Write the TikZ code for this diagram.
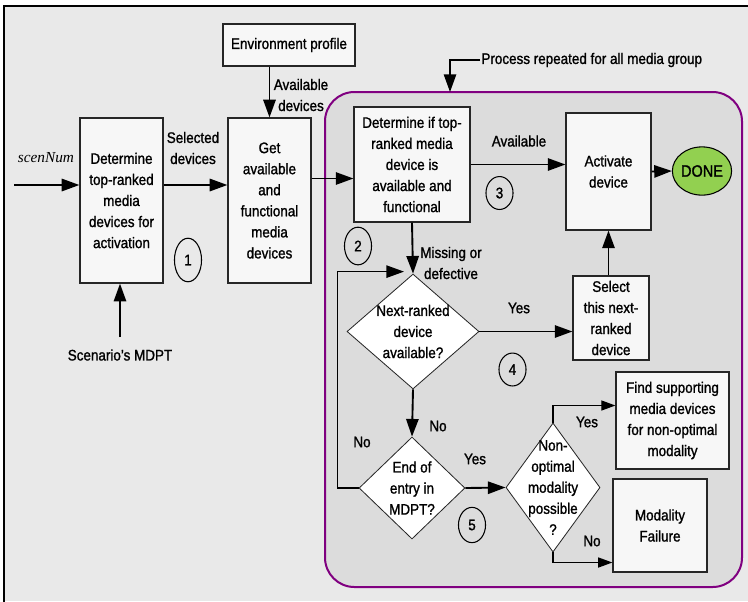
\documentclass[tikz,border=0pt]{standalone}
\usepackage{fontspec}
\setmainfont[FakeStretch=0.88, FakeBold=1.2]{Liberation Sans}
\newfontfamily\scenfont{Liberation Serif}
\usetikzlibrary{arrows.meta,calc,shapes.geometric}

\definecolor{framebg}{RGB}{233,233,233}
\definecolor{groupbg}{RGB}{220,220,220}
\definecolor{boxbg}{RGB}{247,247,247}
\definecolor{groupline}{RGB}{128,0,128}
\definecolor{donegreen}{RGB}{146,208,80}

\tikzset{
  procbox/.style={draw=black!85, line width=1pt, fill=boxbg, align=center, inner sep=1pt},
  decision/.style={diamond, draw=black!85, line width=0.7pt, fill=white, inner sep=0pt},
  stepnum/.style={ellipse, draw=black, line width=0.9pt, inner sep=0pt},
  arr/.style={line width=1.6pt, -{Triangle[length=15pt,width=10.5pt]}},
  thinarr/.style={line width=1.1pt, -{Triangle[length=12pt,width=8.5pt]}},
  lbl/.style={align=center, inner sep=1pt}
}

\begin{document}
\begin{tikzpicture}[x=0.85pt, y=-0.85pt, font=\fontsize{13}{17.9}\selectfont]
  \useasboundingbox (0,0) rectangle (748,601);

  % Frame and the panel of the repeated part
  \fill[white] (0,0) rectangle (748,601);
  \fill[framebg] (4,6) rectangle (748,601);
  \draw[line width=1.8pt] (4,603) -- (4,6) -- (750,6);
  \draw[groupline, fill=groupbg, line width=1.7pt, rounded corners=25pt] (325,92) rectangle (742,587);

  % Boxes
  \node[procbox, minimum width=70.6pt, minimum height=140.3pt] (toprank) at (121.5,200.5)
    {Determine\\top-ranked\\media\\devices for\\activation};
  \node[procbox, minimum width=70.6pt, minimum height=140.3pt] (getavail) at (269.5,200.5)
    {Get\\available\\and\\functional\\media\\devices};
  \node[procbox, minimum width=112.2pt, minimum height=35.7pt] (envprof) at (289,45) {Environment profile};
  \node[procbox, minimum width=98.6pt, minimum height=97.7pt] (checkdev) at (412,164.5)
    {Determine if top-\\ranked media\\device is\\available and\\functional};
  \node[procbox, minimum width=72.2pt, minimum height=99.4pt] (activate) at (608.5,171.5) {Activate\\device};
  \node[ellipse, draw=black, line width=0.9pt, fill=donegreen, inner sep=0pt,
        minimum width=49pt, minimum height=41pt, font=\fontsize{14}{16}\selectfont] (done) at (702,171) {DONE};
  \node[procbox, minimum width=64.6pt, minimum height=71.4pt] (nextsel) at (611,318)
    {Select\\this next-\\ranked\\device};
  \node[procbox, minimum width=96pt, minimum height=82.5pt] (findsup) at (672.5,420.5)
    {Find supporting\\media devices\\for non-optimal\\modality};
  \node[procbox, minimum width=80pt, minimum height=79pt] (modfail) at (660,525.5) {Modality\\Failure};

  % Decisions
  \node[decision, minimum width=112.2pt, minimum height=97.7pt] (nextav) at (413,331.5) {};
  \node[lbl] (nextavtxt) at (nextav) {Next-ranked\\device\\available?};
  \node[decision, minimum width=90pt, minimum height=86.7pt] (endmdpt) at (412,488) {};
  \node[lbl] (endmdpttxt) at (endmdpt) {End of\\entry in\\MDPT?};
  \node[decision, minimum width=80pt, minimum height=109.7pt] (nonopt) at (553,487.5) {};
  \node[lbl] (nonopttxt) at (nonopt) {Non-\\optimal\\modality\\possible\\?};

  % Step numbers
  \foreach \n/\x/\y/\h in {1/188/260/37pt, 2/358/246/32pt, 3/499.5/193/28pt, 4/512.5/369.5/28pt, 5/472/525/30pt} {
    \node[stepnum, minimum width=23pt, minimum height=\h] (step\n) at (\x,\y) {\n};
  }

  % Inputs on the left
  \coordinate (scenin) at (14,185);
  \node[lbl, font=\fontsize{13}{15}\selectfont\scenfont\itshape] (scen) at (46,158) {scenNum};
  \draw[arr] (scenin) -- (scenin -| toprank.west);
  \coordinate (mdptout) at (120,337);
  \node[lbl] (mdpt) at (120,355) {Scenario’s MDPT};
  \draw[arr, line width=1.3pt] (mdptout) -- (mdptout |- toprank.south);

  % Main flow
  \draw[arr] (toprank.east |- scenin) -- (getavail.west |- scenin);
  \node[lbl] (seldev) at (193,148) {Selected\\devices};
  \draw[arr] (envprof.south -| getavail.north) -- (getavail.north);
  \node[lbl] (availdev) at (301,95) {Available\\devices};
  \draw[arr] ($(getavail.east)+(0,-22)$) -- ($(checkdev.west)+(0,14)$);
  \draw[arr] (checkdev.east) -- (checkdev.east -| activate.west);
  \node[lbl] (availlbl) at (519,141) {Available};
  \draw[arr] (activate.east) -- (done.west);

  \draw[arr] (checkdev.south) -- (nextav.north);
  \node[lbl] (missing) at (451,263) {Missing or\\defective};
  \draw[arr] (nextav.east) -- (nextav.east -| nextsel.west);
  \node[lbl] (yes1) at (519,308) {Yes};
  \draw[arr] (activate.south |- nextsel.north) -- (activate.south);
  \draw[arr] (nextav.south) -- (endmdpt.north);
  \node[lbl] (no1) at (438,426) {No};

  % Back to the next-ranked test
  \coordinate (loopin) at ($(nextav.north)+(-9,-2)$);
  \draw[arr, line width=1.3pt] (endmdpt.west) -- ++(-21,0) |- (loopin);
  \node[lbl] (no2) at (362,442) {No};

  \draw[arr] (endmdpt.east) -- (nonopt.west);
  \node[lbl] (yes2) at (475,459) {Yes};
  \coordinate (findin) at ($(findsup.west)+(0,-15)$);
  \draw[thinarr] (nonopt.north) |- (findin);
  \node[lbl] (yes3) at (587,422) {Yes};
  \coordinate (modin) at ($(modfail.west)+(0,37)$);
  \draw[thinarr] (nonopt.south) |- (modin);
  \node[lbl] (no3) at (592,541) {No};

  % Note on the panel
  \node[lbl, anchor=west] (repeat) at (480,60) {Process repeated for all media group};
  \coordinate (grpin) at (450,92);
  \draw[arr, line width=1.3pt] (repeat.west) -| (grpin);
\end{tikzpicture}
\end{document}
